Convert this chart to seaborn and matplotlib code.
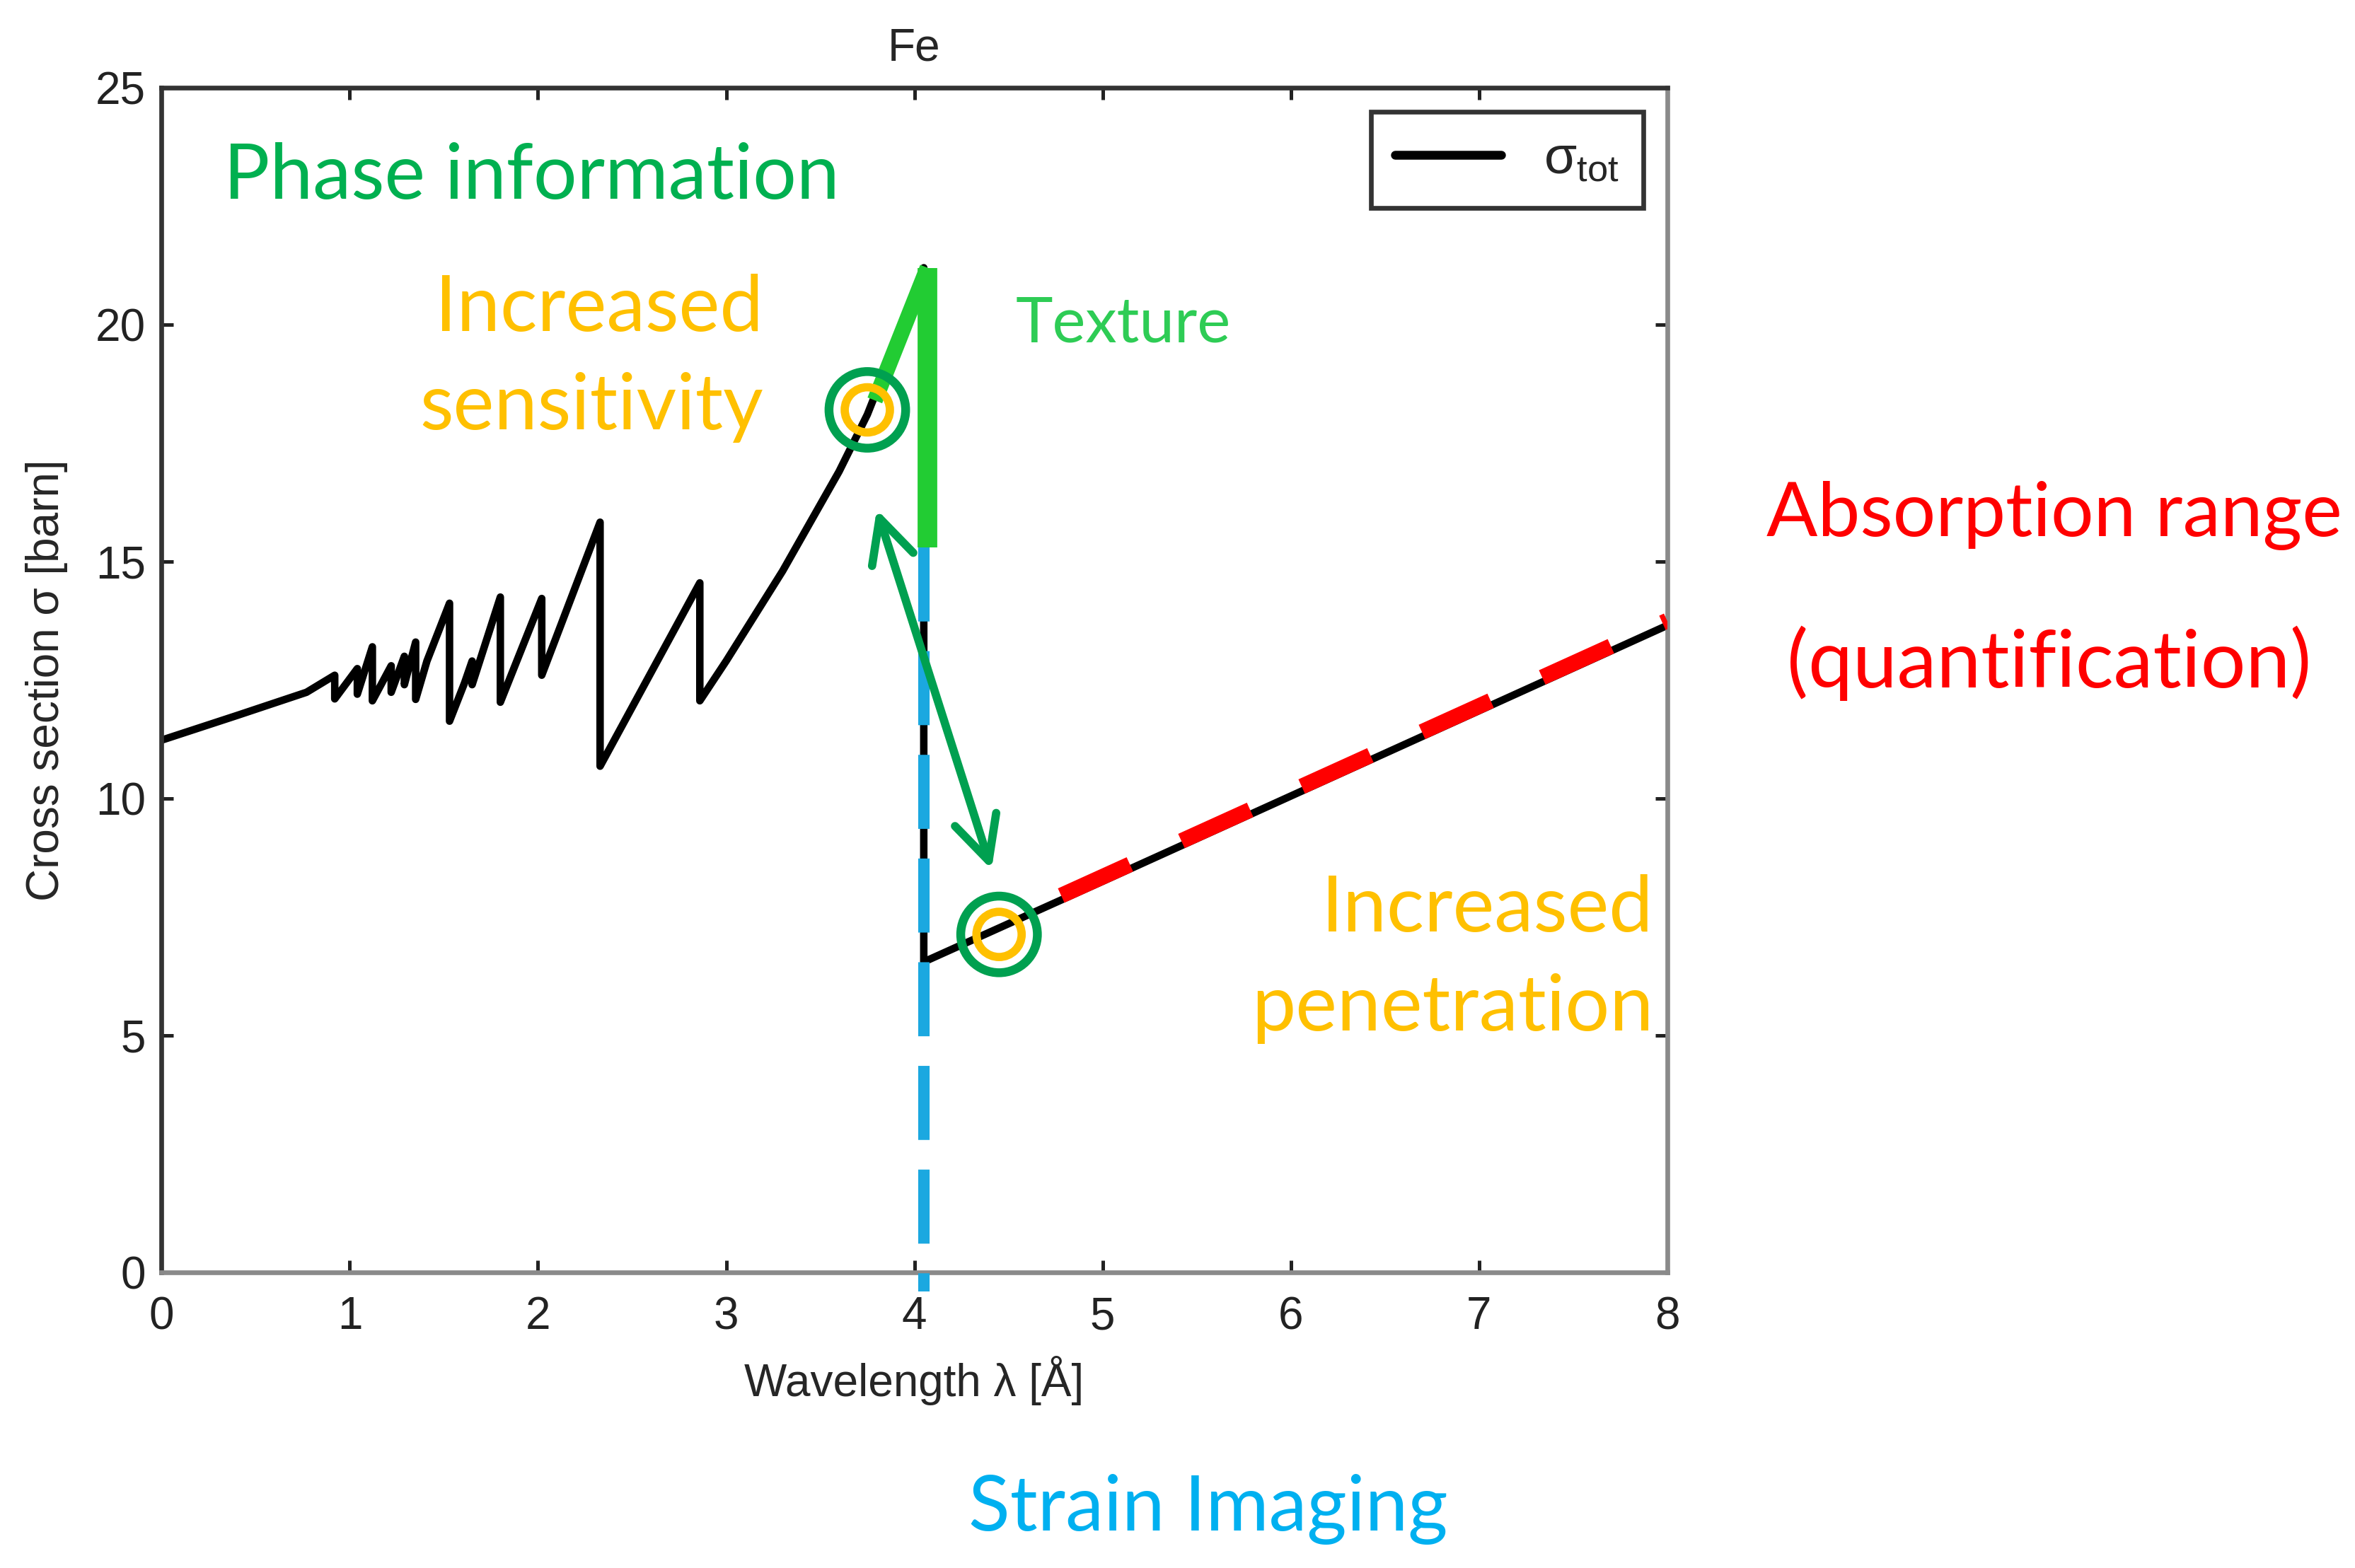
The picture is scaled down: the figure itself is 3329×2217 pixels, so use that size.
import numpy as np
import pandas as pd
import matplotlib
matplotlib.use('Agg')
import matplotlib.pyplot as plt
import seaborn as sns

# total cross section of Fe
wavelength = [0.0, 0.4, 0.77, 0.92, 0.92, 1.04, 1.04, 1.12, 1.12, 1.22, 1.22,
              1.29, 1.29, 1.35, 1.35, 1.41, 1.53, 1.53, 1.61, 1.65, 1.65,
              1.80, 1.80, 2.02, 2.02, 2.33, 2.33, 2.86, 2.86, 3.0, 3.3,
              3.6, 3.75, 3.9, 4.05, 4.05, 5.0, 6.0, 7.0, 8.0]
sigma_tot = [11.23, 11.75, 12.24, 12.6, 12.1, 12.74, 12.2, 13.2, 12.06, 12.8, 12.24,
             13.0, 12.4, 13.3, 12.09, 12.9, 14.12, 11.63, 12.44, 12.9, 12.4,
             14.25, 12.03, 14.22, 12.6, 15.83, 10.68, 14.55, 12.06, 12.9, 14.8,
             16.9, 18.1, 19.6, 21.2, 6.55, 8.25, 10.05, 11.85, 13.65]

# annotation overlays
texture_x = [3.79, 4.07]
texture_y = [18.4, 21.2]
texture_drop_x = [4.07, 4.07]
texture_drop_y = [21.2, 15.3]
strain_x = [4.05, 4.05]
strain_y = [15.3, -0.4]
absorb_x = [4.78, 8.0]
absorb_y = [7.95, 13.75]
circle_x = [3.75, 4.45]
circle_y = [18.2, 7.13]
arrow_start = (3.80, 16.1)
arrow_end = (4.41, 8.5)

x_ticks = [0, 1, 2, 3, 4, 5, 6, 7, 8]
y_ticks = [0, 5, 10, 15, 20, 25]

sns.set_style('ticks')
plt.rcParams['font.family'] = ['Liberation Sans', 'DejaVu Sans']
office = ['Lato', 'DejaVu Sans']

fig = plt.figure(figsize=(16.65, 11.085), dpi=200)
ax = fig.add_axes([0.0686, 0.1886, 0.6391, 0.7555])

df = pd.DataFrame({'wavelength': wavelength, 'sigma': sigma_tot})
sns.lineplot(data=df, x='wavelength', y='sigma', sort=False, estimator=None,
             color='black', linewidth=3.8, ax=ax,
             label=r'$\mathregular{\sigma_{tot}}$', zorder=2)

ax.plot(strain_x, strain_y, color='#1ba8e0', linewidth=5.8, dashes=(6.5, 2.6),
        clip_on=False, zorder=3)
ax.plot(absorb_x, absorb_y, color='#ff0000', linewidth=8, dashes=(4.8, 3.6), zorder=3)
ax.plot(texture_x, texture_y, color='#22cc33', linewidth=8, solid_capstyle='butt', zorder=4)
ax.plot(texture_drop_x, texture_drop_y, color='#22cc33', linewidth=10,
        solid_capstyle='butt', zorder=4)

ax.scatter(circle_x, circle_y, s=39 ** 2, facecolors='none', edgecolors='#00a050',
           linewidths=4.5, zorder=5)
ax.scatter(circle_x, circle_y, s=23 ** 2, facecolors='none', edgecolors='#ffc000',
           linewidths=4.2, zorder=6)

ax.annotate('', xy=arrow_end, xytext=arrow_start,
            arrowprops=dict(arrowstyle='<->,head_length=1.1,head_width=0.55',
                            color='#00a050', lw=4.2, mutation_scale=20,
                            shrinkA=0, shrinkB=0), zorder=5)

ax.set_xlim(0, 8)
ax.set_ylim(0, 25)
ax.set_xticks(x_ticks)
ax.set_yticks(y_ticks)
ax.tick_params(direction='in', top=True, right=True, length=6, width=1.8,
               labelsize=23, colors='#222222')
ax.tick_params(axis='x', pad=12)
ax.tick_params(axis='y', pad=8)
for side in ['left', 'top']:
    ax.spines[side].set_color('#333333')
for side in ['bottom', 'right']:
    ax.spines[side].set_color('#8a8a8a')
for side in ax.spines:
    ax.spines[side].set_linewidth(2.4)
    ax.spines[side].set_visible(True)

ax.set_xlabel('Wavelength λ [Å]', fontsize=23, labelpad=9)
ax.set_ylabel('Cross section σ [barn]', fontsize=23, labelpad=14)
ax.set_title('Fe', fontsize=23, pad=14)

leg = ax.legend(loc='upper right', fontsize=27, fancybox=False, framealpha=1,
                edgecolor='#333333', borderaxespad=0.45, handlelength=2.0,
                borderpad=0.45)
leg.get_frame().set_linewidth(2.4)
for line in leg.get_lines():
    line.set_linewidth(4.5)

fig.text(0.0949, 0.887, 'Phase information', color='#00b050', fontsize=39.2,
         family=office, ha='left', va='center')
fig.text(0.324, 0.803, 'Increased', color='#ffc000', fontsize=39.5, family=office,
         ha='right', va='center')
fig.text(0.324, 0.740, 'sensitivity', color='#ffc000', fontsize=39.5, family=office,
         ha='right', va='center')
fig.text(0.431, 0.793, 'Texture', color='#2ecc55', fontsize=32, family=office,
         ha='left', va='center')
fig.text(0.872, 0.671, 'Absorption range', color='#ff0000', fontsize=38.5,
         family=office, ha='center', va='center')
fig.text(0.870, 0.577, '(quantification)', color='#ff0000', fontsize=40.5,
         family=office, ha='center', va='center')
fig.text(0.702, 0.420, 'Increased', color='#ffc000', fontsize=40, family=office,
         ha='right', va='center')
fig.text(0.702, 0.357, 'penetration', color='#ffc000', fontsize=40, family=office,
         ha='right', va='center')
fig.text(0.513, 0.0375, 'Strain Imaging', color='#00b0f0', fontsize=39,
         family=office, ha='center', va='center')

fig.savefig('out.png', dpi=200, facecolor='white')
